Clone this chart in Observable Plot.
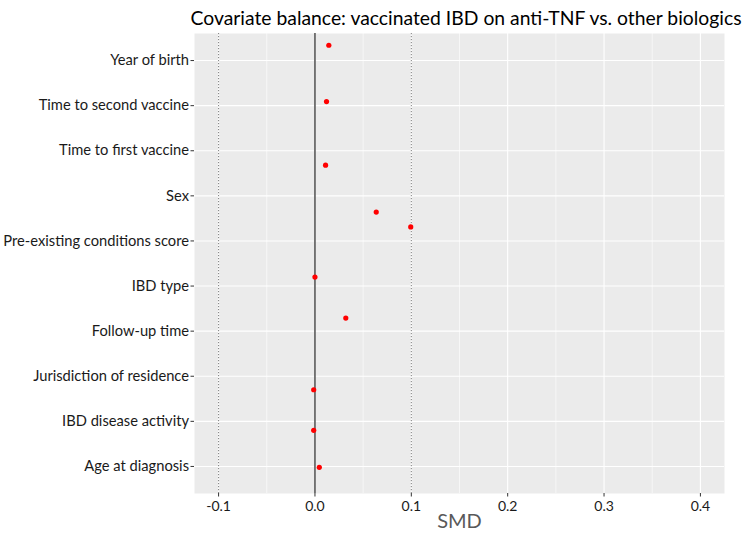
<!DOCTYPE html>
<html><head><meta charset="utf-8">
<script src="https://cdn.jsdelivr.net/npm/d3@7"></script>
<script src="https://cdn.jsdelivr.net/npm/@observablehq/plot@0.6"></script>
<style>body{margin:0;background:#fff} svg{display:block}</style>
</head><body><div id="chart"></div>
<script>
const covariates = ["Age at diagnosis","IBD disease activity","Jurisdiction of residence","Follow-up time","IBD type","Pre-existing conditions score","Sex","Time to first vaccine","Time to second vaccine","Year of birth"];
const smd = [0.0045,-0.0013,-0.0013,0.032,0.000,0.0994,0.0636,0.011,0.012,0.0144];
const jitter = [-0.02,-0.20,-0.30,0.29,0.20,0.31,-0.36,-0.32,0.09,0.34];
const xTicks = [-0.1,0,0.1,0.2,0.3,0.4];
const xMinor = [-0.05,0.05,0.15,0.25,0.35];
const refLines = [-0.1, 0.1];
const zeroLine = [0];
const title = "Covariate balance: vaccinated IBD on anti-TNF vs. other biologics";
const xLabel = "SMD";

const data = covariates.map((c,i)=>({covariate:c, smd:smd[i], y:i+1+jitter[i]}));
const yPos = covariates.map((c,i)=>i+1);
const font = "Lato, 'Open Sans', sans-serif";
const fmt = d => d.toFixed(1);

const plot = Plot.plot({
  width:747, height:538,
  marginLeft:194, marginRight:23, marginTop:33, marginBottom:45,
  style:{fontFamily:font, background:"#fff", overflow:"visible"},
  x:{domain:[-0.125,0.425], label:null},
  y:{domain:[0.4,10.6], label:null},
  marks:[
    Plot.frame({fill:"#ebebeb", stroke:null}),
    Plot.gridX(xMinor,{stroke:"#fff", strokeOpacity:1, strokeWidth:0.6}),
    Plot.gridX(xTicks,{stroke:"#fff", strokeOpacity:1, strokeWidth:1.1}),
    Plot.gridY(yPos,{stroke:"#fff", strokeOpacity:1, strokeWidth:1.1}),
    Plot.ruleX(refLines,{stroke:"#808080", strokeDasharray:"1.2,1.8", strokeWidth:1}),
    Plot.ruleX(zeroLine,{stroke:"#4d4d4d", strokeWidth:1.5}),
    Plot.dot(data,{x:"smd", y:"y", r:2.6, fill:"#ff0000", stroke:null}),
    Plot.axisX(xTicks,{tickSize:3.5, tickPadding:4, fontSize:14, fill:"#1a1a1a", stroke:"#333", tickFormat:fmt, label:null}),
    Plot.axisY(yPos,{tickSize:3.5, tickPadding:2, fontSize:14.7, fill:"#1a1a1a", stroke:"#333", tickFormat:i=>covariates[i-1], label:null}),
    Plot.text([xLabel],{frameAnchor:"bottom", lineAnchor:"middle", dy:28, fontSize:20, fill:"#595959"}),
    Plot.text([title],{frameAnchor:"top-left", textAnchor:"start", lineAnchor:"middle", dx:-4, dy:-15, fontSize:20, fill:"#000", className:"title-text"})
  ]
});
document.getElementById("chart").appendChild(plot);
// fit title font size to the reference's span
const t = plot.querySelector(".title-text text");
if (t) {
  const w = t.getComputedTextLength();
  const target = 551;
  if (w > 0) t.setAttribute("font-size", (20 * target / w).toFixed(2));
}
</script>
</body></html>
